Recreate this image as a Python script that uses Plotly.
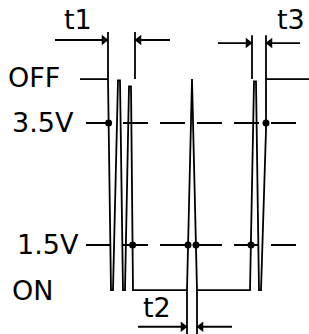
import plotly.graph_objects as go

# ---- data (time in arbitrary units, level in volts) ----
V_OFF = 4.22
V_ON = 0.76
V_HI = 3.5
V_LO = 1.5

wave_t = [80, 108, 111, 113, 118, 120, 123, 125, 129, 131, 133, 187, 192, 197,
          250, 254, 256, 259, 261, 266, 266, 309]
wave_v = [V_OFF, V_OFF, V_ON, V_ON, 4.2, 4.2, V_ON, V_ON, 4.1, 4.1, V_ON, V_ON, 4.22, V_ON,
          V_ON, 4.18, 4.18, V_ON, V_ON, 3.38, V_OFF, V_OFF]

thr_t = [86, 298]
thr_levels = [V_HI, V_LO]
thr_labels = ["3.5V", "1.5V"]

dot_t = [108.6, 266, 132.6, 188, 196, 251]
dot_v = [V_HI, V_HI, V_LO, V_LO, V_LO, V_LO]

dims = [
    dict(name="t1", t=(108, 135), v=4.86, ext=(4.99, V_OFF), tails=(55, 170), lab=(62, 5.19)),
    dict(name="t2", t=(187, 197), v=0.16, ext=(V_ON, 0.0), tails=(138, 232), lab=(141, 0.48)),
    dict(name="t3", t=(252, 266), v=4.81, ext=(4.94, V_OFF), tails=(218, 300), lab=(275, 5.19)),
]

level_labels = ["OFF", "ON"]
level_label_pos = [(6, 4.24), (10, 0.75)]
thr_label_x = [10, 15]

LW = 1.8
BLACK = "black"
FONT = dict(family="DejaVu Sans", size=27, color=BLACK)

fig = go.Figure()

fig.add_trace(go.Scatter(x=wave_t, y=wave_v, mode="lines",
                         line=dict(color=BLACK, width=LW), hoverinfo="skip"))

for lv in thr_levels:
    fig.add_trace(go.Scatter(x=thr_t, y=[lv, lv], mode="lines",
                             line=dict(color=BLACK, width=LW, dash="25px,12px"),
                             hoverinfo="skip"))

fig.add_trace(go.Scatter(x=dot_t, y=dot_v, mode="markers",
                         marker=dict(color=BLACK, size=7), hoverinfo="skip"))

AH = 4
for d in dims:
    a, b = d["t"]
    for tx in (a, b):
        fig.add_trace(go.Scatter(x=[tx, tx], y=list(d["ext"]), mode="lines",
                                 line=dict(color=BLACK, width=LW), hoverinfo="skip"))
    l0, r1 = d["tails"]
    fig.add_trace(go.Scatter(x=[l0, a], y=[d["v"], d["v"]], mode="lines",
                             line=dict(color=BLACK, width=LW), hoverinfo="skip"))
    fig.add_trace(go.Scatter(x=[b, r1], y=[d["v"], d["v"]], mode="lines",
                             line=dict(color=BLACK, width=LW), hoverinfo="skip"))
    fig.add_trace(go.Scatter(x=[a - AH, b + AH], y=[d["v"], d["v"]], mode="markers",
                             marker=dict(color=BLACK, size=9,
                                         symbol=["triangle-right", "triangle-left"]),
                             hoverinfo="skip"))
    fig.add_annotation(x=d["lab"][0], y=d["lab"][1], text=d["name"], showarrow=False,
                       xanchor="left", yanchor="middle", font=FONT)

for txt, (x, y) in zip(level_labels, level_label_pos):
    fig.add_annotation(x=x, y=y, text=txt, showarrow=False,
                       xanchor="left", yanchor="middle", font=FONT)
for txt, x, y in zip(thr_labels, thr_label_x, thr_levels):
    fig.add_annotation(x=x, y=y, text=txt, showarrow=False,
                       xanchor="left", yanchor="middle", font=FONT)

fig.update_layout(
    width=309, height=334, margin=dict(l=0, r=0, t=0, b=0),
    paper_bgcolor="white", plot_bgcolor="white", showlegend=False,
    hovermode=False,
    xaxis=dict(range=[0, 309], visible=False, fixedrange=True),
    yaxis=dict(range=[0.041, 5.516], visible=False, fixedrange=True),
)

# remove the default 8px page margin so the figure fills the window
fig.write_html("out.html", config={"displayModeBar": False},
               post_script="document.body.style.margin='0';")
